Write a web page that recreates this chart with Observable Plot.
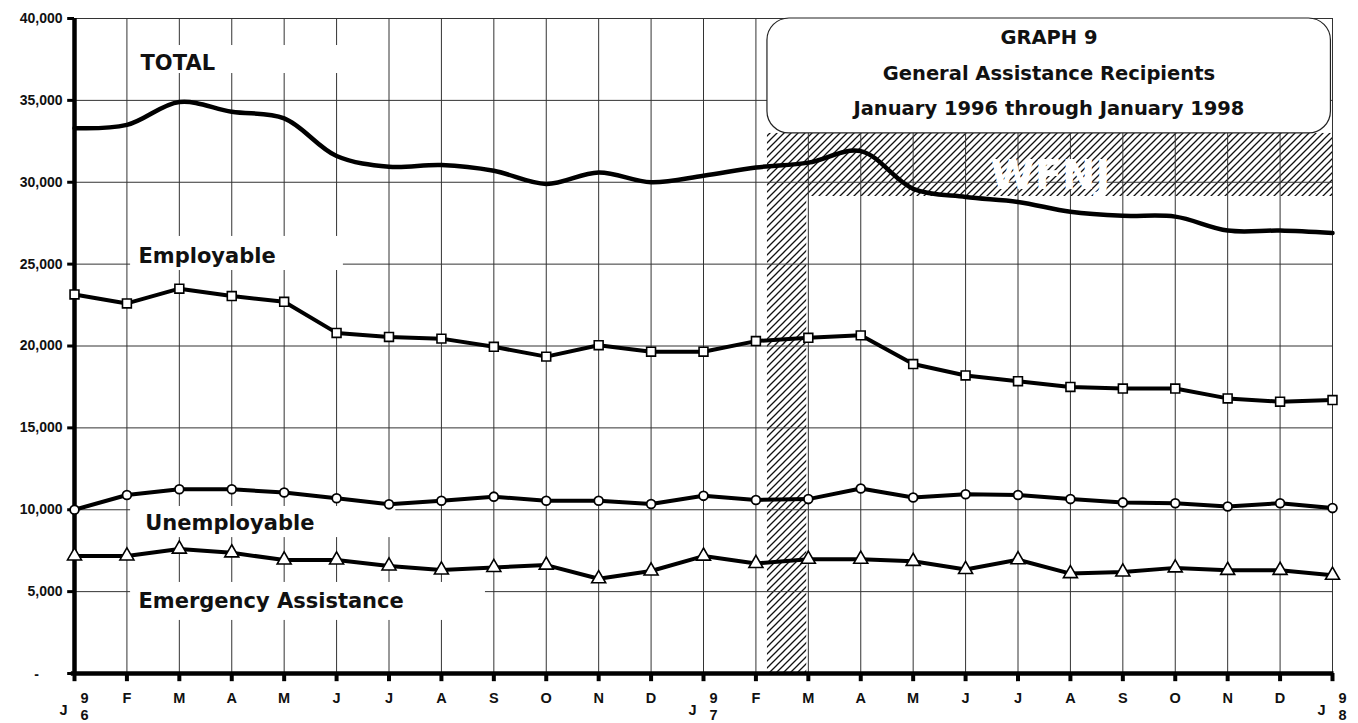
<!DOCTYPE html>
<html><head><meta charset="utf-8">
<script src="https://cdn.jsdelivr.net/npm/d3@7"></script>
<script src="https://cdn.jsdelivr.net/npm/@observablehq/plot@0.6"></script>
<style>html,body{margin:0;padding:0;background:#fff;} svg{display:block}</style>
</head><body><div id="chart"></div>
<script>
// ---- Data (Jan 1996 .. Jan 1998, 25 months) ----
const monthLetters = ["J","F","M","A","M","J","J","A","S","O","N","D","J","F","M","A","M","J","J","A","S","O","N","D","J"];
const yearDigits = [{i:0, hi:"9", lo:"6"}, {i:12, hi:"9", lo:"7"}, {i:24, hi:"9", lo:"8"}];
const total        = [33300,33500,34900,34300,33900,31600,30950,31050,30700,29900,30600,30000,30400,30900,31200,31900,29600,29100,28800,28200,27950,27900,27050,27050,26900];
const employable   = [23150,22600,23500,23050,22700,20800,20550,20450,19950,19350,20050,19650,19650,20300,20500,20650,18900,18200,17850,17500,17400,17400,16800,16600,16700];
const unemployable = [10000,10900,11250,11250,11050,10700,10330,10550,10800,10550,10550,10350,10850,10600,10650,11300,10750,10950,10900,10650,10450,10400,10200,10400,10100];
const emergency    = [7180,7180,7600,7370,6930,6930,6570,6320,6480,6620,5790,6260,7170,6720,6980,6980,6850,6350,6950,6100,6200,6450,6300,6300,6000];
const yTicks = [0,5000,10000,15000,20000,25000,30000,35000,40000];
const yTickLabels = ["-","5,000","10,000","15,000","20,000","25,000","30,000","35,000","40,000"];
const seriesNames = ["TOTAL","Employable","Unemployable","Emergency Assistance"];
const titleLines = ["GRAPH 9","General Assistance Recipients","January 1996 through January 1998"];
const wfnjLabel = "WFNJ";

// ---- Annotation geometry (month index / value units) ----
const months = d3.range(monthLetters.length);
const wfnj = {x1: 13.22, x2: 13.97, xEnd: 24, yBandLo: 29130, yBandHi: 32980};
const titleBox = {x1: 13.22, x2: 23.97, y1: 32980, y2: 40000, cx: 18.59, ys: [38840, 36640, 34500]};
const labelBoxes = [
  {name: seriesNames[0], x1: 1.18, x2: 5.46, y1: 36640, y2: 38350, tx: 1.26, ty: 37250},
  {name: seriesNames[1], x1: 1.07, x2: 5.13, y1: 24610, y2: 26690, tx: 1.22, ty: 25470},
  {name: seriesNames[2], x1: 1.07, x2: 6.13, y1: 8300, y2: 10200, tx: 1.35, ty: 9160},
  {name: seriesNames[3], x1: 1.07, x2: 7.84, y1: 3240, y2: 5560, tx: 1.22, ty: 4400}
];

const rows = (arr) => arr.map((v, i) => ({i, v}));
const totalRows = rows(total), empRows = rows(employable), unRows = rows(unemployable), emRows = rows(emergency);
const yTickRows = yTicks.map((v, k) => ({v, label: yTickLabels[k]}));
const monthRows = months.map(i => ({i, label: monthLetters[i]}));

const bold = "DejaVu Sans";
const plot = Plot.plot({
  width: 1358, height: 723,
  marginLeft: 74, marginRight: 26, marginTop: 18, marginBottom: 50,
  x: {domain: [0, 24], axis: null},
  y: {domain: [0, 40000], axis: null},
  style: {background: "white", fontFamily: "Liberation Sans"},
  marks: [
    // hatched WFNJ region
    Plot.rect([wfnj], {x1: "x1", x2: "xEnd", y1: "yBandLo", y2: "yBandHi", fill: "url(#hatch)"}),
    Plot.rect([wfnj], {x1: "x1", x2: "x2", y1: 0, y2: "yBandLo", fill: "url(#hatch)"}),
    // grid
    Plot.ruleY(yTicks, {x1: 0, x2: 24, stroke: "#333", strokeWidth: 1}),
    Plot.ruleX(months, {y1: 0, y2: 40000, stroke: "#333", strokeWidth: 1}),
    // label backgrounds
    Plot.rect(labelBoxes, {x1: "x1", x2: "x2", y1: "y1", y2: "y2", fill: "white"}),
    // title box
    Plot.rect([titleBox], {x1: "x1", x2: "x2", y1: "y1", y2: "y2", fill: "white", stroke: "#222", strokeWidth: 1.2, rx: 22}),
    Plot.text(titleLines, {x: titleBox.cx, y: (d, k) => titleBox.ys[k], text: d => d, fontFamily: bold, fontWeight: "bold", fontSize: 19.5, fill: "#111"}),
    // WFNJ text
    Plot.text([wfnjLabel], {x: 18.62, y: 30350, text: d => d, fontFamily: bold, fontWeight: "bold", fontSize: 40, fill: "white", letterSpacing: 3}),
    // axes
    Plot.ruleX([0], {y1: 0, y2: 40000, stroke: "black", strokeWidth: 4.5}),
    Plot.ruleY([0], {x1: -0.06, x2: 24.03, stroke: "black", strokeWidth: 4.5}),
    Plot.ruleY(yTicks, {x1: -0.13, x2: 0, stroke: "black", strokeWidth: 3}),
    Plot.ruleX(months, {y1: -500, y2: 0, stroke: "black", strokeWidth: 4}),
    // y tick labels
    Plot.text(yTickRows.filter(d => d.v > 0), {x: 0, y: "v", text: "label", textAnchor: "end", dx: -12, fontSize: 14, fontWeight: "bold", fill: "#111"}),
    Plot.text(yTickRows.filter(d => d.v === 0), {x: 0, y: "v", text: "label", textAnchor: "middle", dx: -38, dy: 1, fontSize: 14, fontWeight: "bold", fill: "#111"}),
    // x labels
    Plot.text(monthRows.filter(d => d.i % 12 !== 0), {x: "i", y: 0, text: "label", dy: 25, fontSize: 14.5, fontWeight: "bold", fill: "#111"}),
    Plot.text(monthRows.filter(d => d.i % 12 === 0), {x: "i", y: 0, text: "label", dx: -11, dy: 37, fontSize: 14.5, fontWeight: "bold", fill: "#111"}),
    Plot.text(yearDigits, {x: "i", y: 0, text: "hi", dx: 10, dy: 25, fontSize: 14.5, fontWeight: "bold", fill: "#111"}),
    Plot.text(yearDigits, {x: "i", y: 0, text: "lo", dx: 10, dy: 42, fontSize: 14.5, fontWeight: "bold", fill: "#111"}),
    // series lines
    Plot.line(totalRows, {x: "i", y: "v", curve: "catmull-rom", stroke: "black", strokeWidth: 4.5}),
    Plot.line(empRows, {x: "i", y: "v", stroke: "black", strokeWidth: 4}),
    Plot.line(unRows, {x: "i", y: "v", stroke: "black", strokeWidth: 4}),
    Plot.line(emRows, {x: "i", y: "v", stroke: "black", strokeWidth: 4}),
    Plot.dot(empRows, {x: "i", y: "v", symbol: "square", r: 5, fill: "white", stroke: "black", strokeWidth: 1.6}),
    Plot.dot(unRows, {x: "i", y: "v", symbol: "circle", r: 4.4, fill: "white", stroke: "black", strokeWidth: 1.8}),
    Plot.dot(emRows, {x: "i", y: "v", symbol: "triangle", r: 5.2, fill: "white", stroke: "black", strokeWidth: 1.6}),
    // series labels
    Plot.text(labelBoxes, {x: "tx", y: "ty", text: "name", textAnchor: "start", fontFamily: bold, fontWeight: "bold", fontSize: 21, fill: "#111"})
  ]
});

// hatch pattern definition
const svgSel = d3.select(plot);
const defs = svgSel.insert("defs", ":first-child");
const pat = defs.append("pattern").attr("id", "hatch").attr("patternUnits", "userSpaceOnUse")
  .attr("width", 7).attr("height", 7);
pat.append("rect").attr("width", 7).attr("height", 7).attr("fill", "white");
pat.append("path").attr("d", "M-1,1 l2,-2 M0,7 l7,-7 M6,8 l2,-2").attr("stroke", "#111").attr("stroke-width", 1.3);

document.getElementById("chart").appendChild(plot);
</script>
</body></html>
